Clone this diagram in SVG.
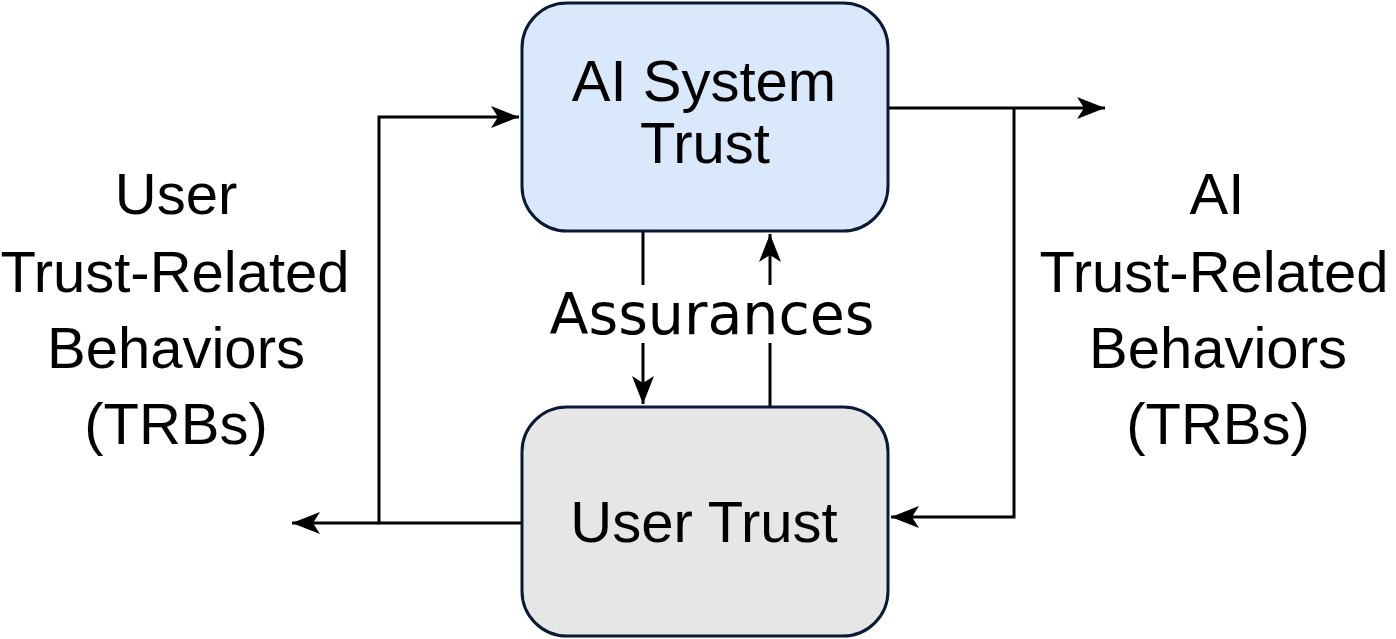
<svg xmlns="http://www.w3.org/2000/svg" width="1396" height="639" viewBox="0 0 1396 639">
<defs>
<marker id="arrow" markerUnits="userSpaceOnUse" markerWidth="30" markerHeight="24" viewBox="-28 -12 30 24" refX="0" refY="0" orient="auto">
<path d="M0,0 L-28,-11 L-21,0 L-28,11 Z" fill="#000"/>
</marker>
</defs>
<style>
.box{stroke:#0a1a33;stroke-width:3}
.lbl{font-family:"Liberation Sans",Arial,sans-serif;font-size:58px;fill:#000;text-anchor:middle}
.asr{font-family:"DejaVu Sans",Verdana,sans-serif;font-size:57px;fill:#000;text-anchor:middle}
.edge{fill:none;stroke:#000;stroke-width:3}
</style>
<rect width="1396" height="639" fill="#fff"/>
<g id="connectors">
<polyline class="edge" points="521,523 379,523 379,117 519,117" marker-end="url(#arrow)"/>
<line class="edge" x1="379" y1="523" x2="292" y2="523" marker-end="url(#arrow)"/>
<line class="edge" x1="888" y1="108" x2="1105" y2="108" marker-end="url(#arrow)"/>
<polyline class="edge" points="1014,108 1014,517 891,517" marker-end="url(#arrow)"/>
<line class="edge" x1="643" y1="232" x2="643" y2="285"/>
<line class="edge" x1="643" y1="343" x2="643" y2="404" marker-end="url(#arrow)"/>
<line class="edge" x1="770" y1="406" x2="770" y2="343"/>
<line class="edge" x1="770" y1="285" x2="770" y2="234" marker-end="url(#arrow)"/>
<text class="asr" x="712" y="334">Assurances</text>
</g>
<g id="ai-system-trust">
<rect class="box" x="522" y="3" width="366" height="228" rx="45" ry="45" fill="#dae8fc"/>
<text class="lbl" x="704" y="101">AI System</text>
<text class="lbl" x="705" y="163">Trust</text>
</g>
<g id="user-trust">
<rect class="box" x="522" y="407" width="366" height="229" rx="45" ry="45" fill="#e6e6e6"/>
<text class="lbl" x="704" y="542">User Trust</text>
</g>
<g id="user-trbs">
<text class="lbl" x="176" y="214">User</text>
<text class="lbl" x="175" y="292">Trust-Related</text>
<text class="lbl" x="176" y="368">Behaviors</text>
<text class="lbl" x="176" y="444">(TRBs)</text>
</g>
<g id="ai-trbs">
<text class="lbl" x="1217" y="214">AI</text>
<text class="lbl" x="1214" y="292">Trust-Related</text>
<text class="lbl" x="1218" y="368">Behaviors</text>
<text class="lbl" x="1218" y="444">(TRBs)</text>
</g>
</svg>
